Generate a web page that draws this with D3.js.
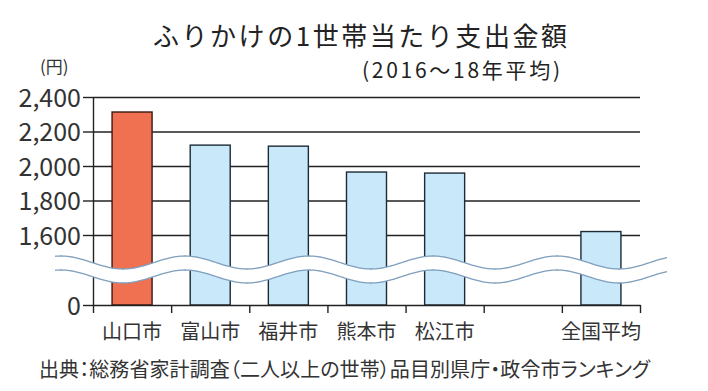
<!DOCTYPE html>
<html><head><meta charset="utf-8">
<script src="https://cdn.jsdelivr.net/npm/d3@7"></script>
<style>body{margin:0;background:#fff}svg{display:block}.p{font-feature-settings:"palt" 1}</style>
</head><body>
<svg id="c" width="708" height="391"></svg>
<script>
// ---- data ----
const categories = ["山口市","富山市","福井市","熊本市","松江市","","全国平均"];
const values = [2313, 2121, 2115, 1965, 1959, null, 1620];
const highlight = ["山口市"];
const yTicks = [0, 1600, 1800, 2000, 2200, 2400];
const yTickLabels = ["0", "1,600", "1,800", "2,000", "2,200", "2,400"];
const title = "ふりかけの1世帯当たり支出金額";
const subtitle = "(2016～18年平均)";
const unit = "(円)";
const source = "出典：総務省家計調査（二人以上の世帯）品目別県庁・政令市ランキング";

// ---- layout ----
const L = 93, R = 640, B = 305, T = 97;
const jp = "'Noto Sans CJK JP','Noto Sans',sans-serif";
const num = "'Liberation Sans Narrow','Noto Sans CJK JP',sans-serif";
const ink = "#222";

const svg = d3.select("#c");
const data = categories.map((c, i) => ({c, v: values[i], i}));

const x = d3.scaleBand().domain(categories.map((c, i) => i)).range([L, R])
  .paddingInner(0.488).paddingOuter(0.244);
const xEdge = d3.scaleLinear().domain([0, categories.length]).range([L, R]);
// broken scale: compressed 0-1600 segment
const y = d3.scaleLinear().domain([0, 1600, 2400]).range([B, 235, T]);

// gridlines
svg.append("g").attr("transform", `translate(${L},0)`)
  .call(d3.axisLeft(y).tickValues(yTicks.filter(d => d > 0)).tickSize(-(R - L)).tickFormat(""))
  .call(g => g.select(".domain").remove())
  .call(g => g.selectAll("line").attr("stroke", ink).attr("stroke-width", 1.4));

// bars
svg.append("g").selectAll("rect").data(data.filter(d => d.v != null))
  .join("rect")
  .attr("x", d => x(d.i)).attr("width", x.bandwidth())
  .attr("y", d => y(d.v)).attr("height", d => y(0) - y(d.v))
  .attr("fill", d => highlight.includes(d.c) ? "#f07052" : "#c9e8fa")
  .attr("stroke", d => highlight.includes(d.c) ? "#3a1810" : "#1c2b36")
  .attr("stroke-width", 1.4);

// y axis
const ya = svg.append("g").attr("transform", `translate(${L},0)`)
  .call(d3.axisLeft(y).tickValues(yTicks).tickSize(10).tickSizeOuter(0).tickPadding(2)
    .tickFormat((d, i) => yTickLabels[i]));
ya.selectAll("line,path").attr("stroke", ink).attr("stroke-width", 1.4);
ya.selectAll("text").attr("font-family", num).attr("font-size", 25).attr("fill", "#333")
  .attr("dy", "0.36em");

// x axis (slot boundaries)
const xa = svg.append("g").attr("transform", `translate(0,${B})`)
  .call(d3.axisBottom(xEdge).ticks(categories.length).tickSize(8).tickSizeOuter(0).tickFormat(""));
xa.selectAll("line,path").attr("stroke", ink).attr("stroke-width", 1.4);

// wave break
const w0 = 55, w1 = 667, per = 124, trough = 123, amp = 6.5;
const c1 = 262.5, c2 = 276.5;
const wy = (xx, c) => c + amp * Math.cos(2 * Math.PI * (xx - trough) / per);
const xsW = d3.range(w0, w1 + 0.5, 1);
const waveTop = xsW.map(xx => [xx, wy(xx, c1)]);
const waveBot = xsW.map(xx => [xx, wy(xx, c2)]);
const line = d3.line();
svg.append("path").attr("d", line(waveTop.concat(waveBot.slice().reverse())) + "Z").attr("fill", "#fff");
[waveTop, waveBot].forEach(p => svg.append("path").attr("d", line(p))
  .attr("fill", "none").attr("stroke", "#7e9fbd").attr("stroke-width", 1.3));

// x labels
svg.append("g").selectAll("text").data(data.filter(d => d.c))
  .join("text")
  .attr("x", d => x(d.i) + x.bandwidth() / 2).attr("y", 339)
  .attr("text-anchor", "middle").attr("font-family", jp).attr("font-size", 20)
  .attr("fill", "#333").text(d => d.c);

// unit
svg.append("text").attr("x", 40).attr("y", 73).attr("font-family", jp).attr("font-size", 17)
  .attr("fill", "#333").text(unit);

// title
svg.append("text").attr("x", 153).attr("y", 46).attr("font-family", jp).attr("font-size", 26)
  .attr("font-weight", 400).attr("fill", "#222")
  .attr("textLength", 414).attr("lengthAdjust", "spacing").text(title);
svg.append("text").attr("x", 362).attr("y", 78).attr("font-family", jp).attr("font-size", 21)
  .attr("fill", "#222").attr("textLength", 198).attr("lengthAdjust", "spacing").text(subtitle);

// source
svg.append("text").attr("class", "p").attr("x", 39).attr("y", 377).attr("font-family", jp).attr("font-size", 20)
  .attr("fill", "#333").attr("textLength", 611).attr("lengthAdjust", "spacing").text(source);
</script>
</body></html>
